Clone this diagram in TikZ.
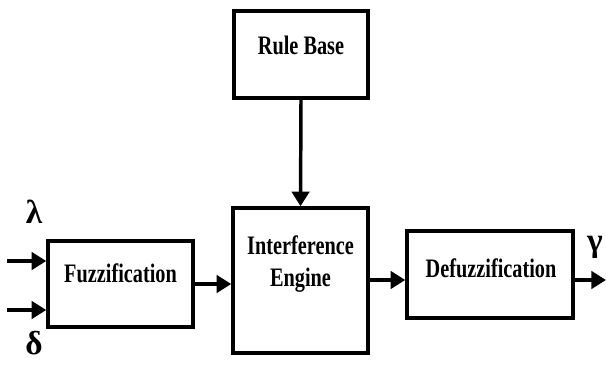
\documentclass[tikz,border=0pt]{standalone}
\usepackage{fontspec}
\setmainfont{Liberation Serif}
\usetikzlibrary{arrows.meta}

\tikzset{every picture/.style={line width=0.75pt}}
\tikzset{
  blk/.style={draw, line width=2.6pt, inner sep=0pt},
  flow/.style={line width=2.6pt, -{Triangle[length=11pt,width=13pt]}},
  lbl/.style={font=\bfseries\fontsize{20}{24}\selectfont, inner sep=0pt},
  sym/.style={font=\bfseries\fontsize{25}{28}\selectfont, inner sep=0pt},
}
\newcommand{\sqz}[1]{\scalebox{0.76}[1]{#1}}

\begin{document}
\begin{tikzpicture}[x=0.75pt,y=0.75pt,yscale=-1,xscale=1]
\useasboundingbox (0,0) rectangle (606,367);

%Shape: Rectangle [rule base]
\node [blk, minimum width=100.5pt, minimum height=65.25pt] (rulebase) at (301,54.5) {};
%Shape: Rectangle [engine]
\node [blk, minimum width=101.25pt, minimum height=108.75pt] (engine) at (300.5,280.5) {};
%Shape: Rectangle [fuzzification]
\node [blk, minimum width=108.75pt, minimum height=64.5pt] (fuzz) at (120.5,284) {};
%Shape: Rectangle [defuzzification]
\node [blk, minimum width=124.5pt, minimum height=65.25pt] (defuzz) at (490,274.5) {};

%Free ends
\coordinate (inA) at (7,261);
\coordinate (inB) at (7,310);
\coordinate (out) at (606,280);

%Straight Lines
\draw [flow] (rulebase.south) -- (engine.north);
\draw [flow] (inA) -- (inA -| fuzz.west);
\draw [flow] (inB) -- (inB -| fuzz.west);
\draw [flow] (fuzz.east) -- (fuzz.east -| engine.west);
\draw [flow] (out -| engine.east) -- (out -| defuzz.west);
\draw [flow] (out -| defuzz.east) -- (out);

% Text Node
\node [lbl, anchor=base] (tRule) at (301,55) {\sqz{Rule Base}};
% Text Node
\node [lbl, anchor=base, align=center] (tEngine) at (300.5,286) {\sqz{Interference}\\\sqz{Engine}};
% Text Node
\node [lbl, anchor=base] (tFuzz) at (120.5,282) {\sqz{Fuzzification}};
% Text Node
\node [lbl, anchor=base] (tDefuzz) at (491,277) {\sqz{Defuzzification}};
% Text Node
\node [sym] (lambda) at (34,212) {λ};
% Text Node
\node [sym] (delta) at (34,343) {δ};
% Text Node
\node [sym] (gamma) at (595,247) {γ};

\end{tikzpicture}
\end{document}
